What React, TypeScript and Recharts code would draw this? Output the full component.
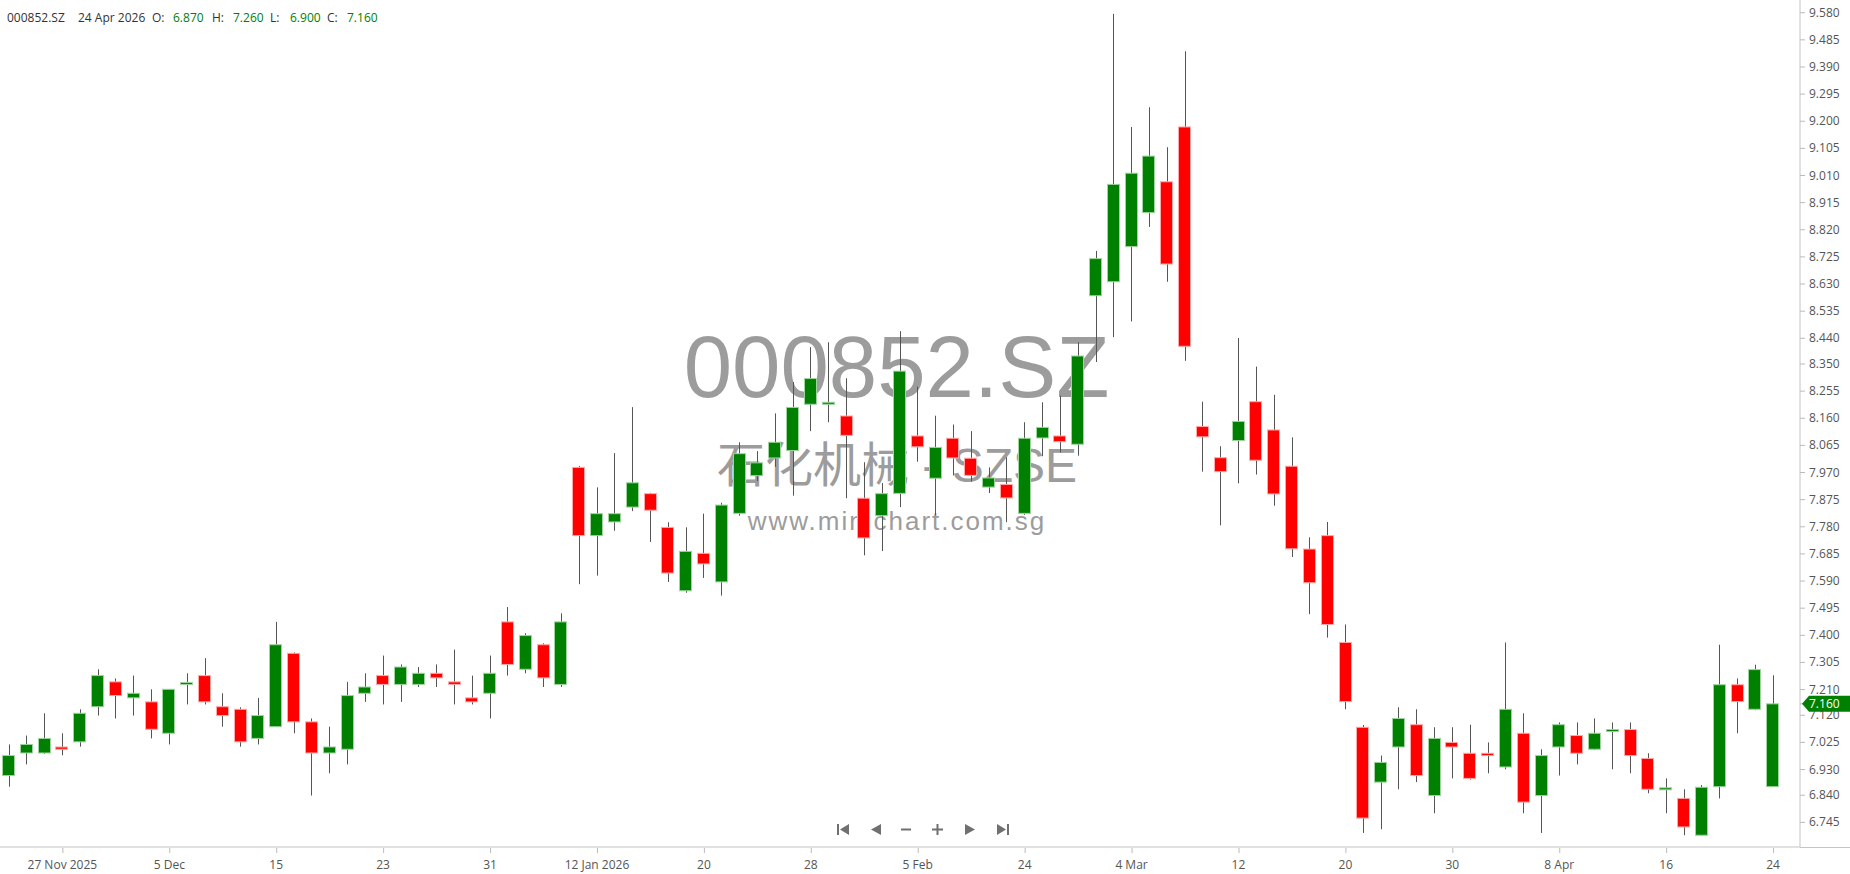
import React from 'react';
import { ComposedChart, Bar, XAxis, YAxis } from 'recharts';

const dates = [
  '2025-11-24', '2025-11-25', '2025-11-26', '2025-11-27', '2025-11-28',
  '2025-12-01', '2025-12-02', '2025-12-03', '2025-12-04', '2025-12-05',
  '2025-12-08', '2025-12-09', '2025-12-10', '2025-12-11', '2025-12-12',
  '2025-12-15', '2025-12-16', '2025-12-17', '2025-12-18', '2025-12-19',
  '2025-12-22', '2025-12-23', '2025-12-24', '2025-12-25', '2025-12-26',
  '2025-12-29', '2025-12-30', '2025-12-31', '2026-01-05', '2026-01-06',
  '2026-01-07', '2026-01-08', '2026-01-09', '2026-01-12', '2026-01-13',
  '2026-01-14', '2026-01-15', '2026-01-16', '2026-01-19', '2026-01-20',
  '2026-01-21', '2026-01-22', '2026-01-23', '2026-01-26', '2026-01-27',
  '2026-01-28', '2026-01-29', '2026-01-30', '2026-02-02', '2026-02-03',
  '2026-02-04', '2026-02-05', '2026-02-06', '2026-02-09', '2026-02-10',
  '2026-02-11', '2026-02-12', '2026-02-24', '2026-02-25', '2026-02-26',
  '2026-02-27', '2026-03-02', '2026-03-03', '2026-03-04', '2026-03-05',
  '2026-03-06', '2026-03-09', '2026-03-10', '2026-03-11', '2026-03-12',
  '2026-03-13', '2026-03-16', '2026-03-17', '2026-03-18', '2026-03-19',
  '2026-03-20', '2026-03-23', '2026-03-24', '2026-03-25', '2026-03-26',
  '2026-03-27', '2026-03-30', '2026-03-31', '2026-04-01', '2026-04-02',
  '2026-04-03', '2026-04-07', '2026-04-08', '2026-04-09', '2026-04-10',
  '2026-04-13', '2026-04-14', '2026-04-15', '2026-04-16', '2026-04-17',
  '2026-04-20', '2026-04-21', '2026-04-22', '2026-04-23', '2026-04-24',
];

const opens = [
  6.909, 6.988, 6.988, 7.009, 7.027, 7.150, 7.237, 7.181, 7.167, 7.057,
  7.228, 7.259, 7.150, 7.141, 7.039, 7.080, 7.337, 7.097, 6.988, 7.001,
  7.197, 7.259, 7.228, 7.228, 7.267, 7.237, 7.181, 7.197, 7.447, 7.281,
  7.367, 7.228, 7.988, 7.749, 7.797, 7.849, 7.896, 7.778, 7.556, 7.687,
  7.587, 7.827, 7.959, 8.021, 8.047, 8.209, 8.213, 8.168, 7.880, 7.819,
  7.897, 8.098, 7.950, 8.090, 8.020, 7.919, 7.928, 7.827, 8.091, 8.098,
  8.069, 8.589, 8.638, 8.761, 8.880, 8.988, 9.180, 8.131, 8.022, 8.082,
  8.218, 8.119, 7.992, 7.702, 7.749, 7.375, 7.078, 6.886, 7.009, 7.087,
  6.839, 7.025, 6.987, 6.987, 6.939, 7.057, 6.839, 7.009, 7.049, 7.001,
  7.067, 7.070, 6.969, 6.863, 6.829, 6.700, 6.870, 7.227, 7.141, 6.870,
];

const highs = [
  7.018, 7.049, 7.127, 7.057, 7.141, 7.281, 7.249, 7.259, 7.211, 7.211,
  7.267, 7.320, 7.197, 7.148, 7.181, 7.447, 7.340, 7.109, 7.080, 7.237,
  7.267, 7.329, 7.298, 7.289, 7.298, 7.350, 7.259, 7.329, 7.499, 7.407,
  7.372, 7.477, 7.993, 7.918, 8.038, 8.199, 7.899, 7.796, 7.778, 7.826,
  7.864, 8.076, 8.045, 8.177, 8.287, 8.409, 8.426, 8.300, 8.006, 7.933,
  8.465, 8.271, 8.169, 8.138, 8.115, 7.988, 8.023, 8.146, 8.216, 8.239,
  8.426, 8.746, 9.576, 9.180, 9.249, 9.109, 9.445, 8.218, 8.062, 8.441,
  8.341, 8.242, 8.093, 7.743, 7.797, 7.438, 7.086, 6.979, 7.148, 7.141,
  7.078, 7.078, 7.087, 7.025, 7.375, 7.127, 7.001, 7.095, 7.095, 7.109,
  7.095, 7.095, 6.987, 6.899, 6.861, 6.876, 7.367, 7.249, 7.297, 7.260,
];

const lows = [
  6.870, 6.948, 6.985, 6.980, 7.010, 7.119, 7.109, 7.119, 7.039, 7.018,
  7.158, 7.158, 7.080, 7.010, 7.018, 7.080, 7.057, 6.839, 6.917, 6.948,
  7.167, 7.158, 7.167, 7.219, 7.219, 7.158, 7.158, 7.109, 7.259, 7.267,
  7.219, 7.219, 7.579, 7.609, 7.766, 7.835, 7.727, 7.587, 7.549, 7.601,
  7.539, 7.819, 7.940, 7.990, 7.889, 8.115, 8.146, 7.880, 7.680, 7.695,
  7.849, 8.008, 7.820, 7.960, 7.938, 7.898, 7.796, 7.822, 8.027, 8.040,
  8.029, 8.357, 8.444, 8.499, 8.830, 8.638, 8.361, 7.973, 7.785, 7.932,
  7.963, 7.854, 7.674, 7.474, 7.392, 7.141, 6.708, 6.721, 6.861, 6.886,
  6.777, 6.899, 6.895, 6.917, 6.931, 6.777, 6.708, 6.909, 6.948, 6.998,
  6.931, 6.917, 6.847, 6.777, 6.700, 6.698, 6.829, 7.057, 7.138, 6.870,
];

const closes = [
  6.979, 7.018, 7.039, 7.001, 7.127, 7.259, 7.189, 7.197, 7.071, 7.211,
  7.235, 7.167, 7.119, 7.027, 7.119, 7.367, 7.097, 6.988, 7.009, 7.189,
  7.219, 7.228, 7.289, 7.267, 7.251, 7.228, 7.167, 7.267, 7.298, 7.399,
  7.251, 7.447, 7.749, 7.826, 7.826, 7.934, 7.838, 7.618, 7.694, 7.650,
  7.856, 8.036, 8.004, 8.076, 8.198, 8.299, 8.216, 8.100, 7.741, 7.896,
  8.325, 8.060, 8.058, 8.021, 7.960, 7.951, 7.881, 8.090, 8.128, 8.078,
  8.378, 8.719, 8.979, 9.018, 9.078, 8.700, 8.412, 8.095, 7.973, 8.149,
  8.013, 7.895, 7.703, 7.584, 7.438, 7.168, 6.760, 6.955, 7.109, 6.909,
  7.039, 7.009, 6.899, 6.979, 7.141, 6.816, 6.979, 7.087, 6.987, 7.057,
  7.070, 6.979, 6.861, 6.866, 6.729, 6.868, 7.227, 7.168, 7.280, 7.160,
];

const tickDates = [
  '2025-11-27', '2025-12-05', '2025-12-15', '2025-12-23', '2025-12-31',
  '2026-01-12', '2026-01-20', '2026-01-28', '2026-02-05', '2026-02-24',
  '2026-03-04', '2026-03-12', '2026-03-20', '2026-03-30', '2026-04-08',
  '2026-04-16', '2026-04-24',
];
const tickLabels = [
  '27 Nov 2025', '5 Dec', '15', '23', '31', '12 Jan 2026', '20', '28', '5 Feb',
  '24', '4 Mar', '12', '20', '30', '8 Apr', '16', '24',
];

const priceTicks = [
  6.745, 6.84, 6.93, 7.025, 7.12, 7.21, 7.305, 7.4, 7.495, 7.59, 7.685,
  7.78, 7.875, 7.97, 8.065, 8.16, 8.255, 8.35, 8.44, 8.535, 8.63, 8.725,
  8.82, 8.915, 9.01, 9.105, 9.2, 9.295, 9.39, 9.485, 9.58,
];
const lastClose = 7.16;
const yDomain = [6.6588, 9.6245];

const UP = '#008000';
const DOWN = '#ff0000';
const FONT = '"Open Sans", "DejaVu Sans", sans-serif';
const WM_FONT = '"Liberation Sans", Arial, "Noto Sans CJK SC", sans-serif';

const data = dates.map((date, i) => ({
  date,
  open: opens[i],
  high: highs[i],
  low: lows[i],
  close: closes[i],
  range: [lows[i], highs[i]],
}));

function Candle(props: any) {
  const { x, y, width, height, payload } = props;
  if (!payload || height == null) return null;
  const { open, high, low, close } = payload;
  const top = Math.min(y, y + height);
  const h = Math.abs(height);
  const ppu = h / (high - low || 1);
  const up = close >= open;
  const bodyTop = top + (high - Math.max(open, close)) * ppu;
  const bodyH = Math.max(2, Math.abs(close - open) * ppu);
  const cx = Math.round(x + width / 2) + 0.5;
  return (
    <g>
      <line x1={cx} x2={cx} y1={top} y2={top + h} stroke="#555" strokeWidth={1} />
      <rect
        x={Math.round(x) + 0.5}
        y={bodyTop}
        width={Math.round(width) - 1}
        height={bodyH}
        fill={up ? UP : DOWN}
        stroke={up ? '#9fd49f' : '#ffa8a8'}
        strokeWidth={1}
      />
    </g>
  );
}

function XTick(props: any) {
  const { x, y, payload } = props;
  const k = tickDates.indexOf(payload.value);
  if (k < 0) return null;
  return (
    <g>
      <line x1={x + 0.5} x2={x + 0.5} y1={y - 7} y2={y - 2} stroke="#bbb" />
      <text x={x} y={y + 14} textAnchor="middle" fill="#555" fontSize={12} fontFamily={FONT}>
        {tickLabels[k]}
      </text>
    </g>
  );
}

function YTick(props: any) {
  const { x, y, payload } = props;
  const v = payload.value;
  if (v === lastClose) {
    const ax = x - 9;
    return (
      <g>
        <path
          d={`M${ax + 2},${y} L${ax + 9},${y - 8} L${ax + 50},${y - 8} L${ax + 50},${y + 8} L${ax + 9},${y + 8} Z`}
          fill={UP}
        />
        <text x={x} y={y + 4} fill="#fff" fontSize={12} fontFamily={FONT}>
          {v.toFixed(3)}
        </text>
      </g>
    );
  }
  return (
    <text x={x} y={y + 4} fill="#555" fontSize={12} fontFamily={FONT}>
      {v.toFixed(3)}
    </text>
  );
}

export default function App() {
  const navY = 829.5;
  return (
    <div style={{ position: 'absolute', left: 0, top: 0, width: 1850, height: 874, background: '#fff', overflow: 'hidden' }}>
      {/* watermark behind candles */}
      <svg width={1850} height={874} style={{ position: 'absolute', left: 0, top: 0 }}>
        <text x={896.5} y={397} textAnchor="middle" fontSize={87} fill="#9c9c9c" fontFamily={WM_FONT}>
          000852.SZ
        </text>
        <text x={897} y={482} textAnchor="middle" fontSize={48} fill="#9c9c9c" fontFamily={WM_FONT}>
          石化机械 - SZSE
        </text>
        <text x={897} y={530} textAnchor="middle" fontSize={26} letterSpacing={2} fill="#9c9c9c" fontFamily={WM_FONT}>
          www.minichart.com.sg
        </text>
      </svg>

      <div style={{ position: 'absolute', left: 0, top: 0 }}>
        <ComposedChart width={1850} height={874} data={data} margin={{ top: 0, right: 0, bottom: 0, left: 0 }}>
          <XAxis
            dataKey="date"
            type="category"
            height={27}
            interval={0}
            padding={{ left: 0, right: 18 }}
            axisLine={{ stroke: '#c4c4c4' }}
            tickLine={false}
            tickSize={6}
            tickMargin={2}
            tick={<XTick />}
          />
          <YAxis
            orientation="right"
            type="number"
            width={50}
            domain={yDomain}
            allowDataOverflow
            ticks={[...priceTicks, lastClose]}
            interval={0}
            tickSize={5}
            tickMargin={4}
            axisLine={{ stroke: '#c4c4c4' }}
            tickLine={{ stroke: '#bbb' }}
            tick={<YTick />}
          />
          <Bar dataKey="range" barSize={13} shape={<Candle />} isAnimationActive={false} />
        </ComposedChart>
      </div>

      {/* header and navigation */}
      <svg width={1850} height={874} style={{ position: 'absolute', left: 0, top: 0, pointerEvents: 'none' }}>
        <g fontSize={12} fontFamily={FONT}>
          <text x={7} y={22} fill="#333">000852.SZ</text>
          <text x={78} y={22} fill="#333">24 Apr 2026</text>
          <text x={152} y={22} fill="#333">O:</text>
          <text x={173} y={22} fill={UP}>6.870</text>
          <text x={212} y={22} fill="#333">H:</text>
          <text x={233} y={22} fill={UP}>7.260</text>
          <text x={270} y={22} fill="#333">L:</text>
          <text x={290} y={22} fill={UP}>6.900</text>
          <text x={327} y={22} fill="#333">C:</text>
          <text x={347} y={22} fill={UP}>7.160</text>
        </g>
        <line x1={1800} x2={1850} y1={847.5} y2={847.5} stroke="#c4c4c4" />
        <g fill="#707070">
          <rect x={837} y={navY - 5.5} width={2} height={11} />
          <polygon points={`849,${navY - 5.5} 849,${navY + 5.5} 840,${navY}`} />
          <polygon points={`881,${navY - 5.5} 881,${navY + 5.5} 871,${navY}`} />
          <rect x={901} y={navY - 1} width={10} height={2} />
          <rect x={932} y={navY - 1} width={11} height={2} />
          <rect x={936.5} y={navY - 5.5} width={2} height={11} />
          <polygon points={`965,${navY - 5.5} 965,${navY + 5.5} 975,${navY}`} />
          <polygon points={`997,${navY - 5.5} 997,${navY + 5.5} 1006,${navY}`} />
          <rect x={1007} y={navY - 5.5} width={2} height={11} />
        </g>
      </svg>
    </div>
  );
}
